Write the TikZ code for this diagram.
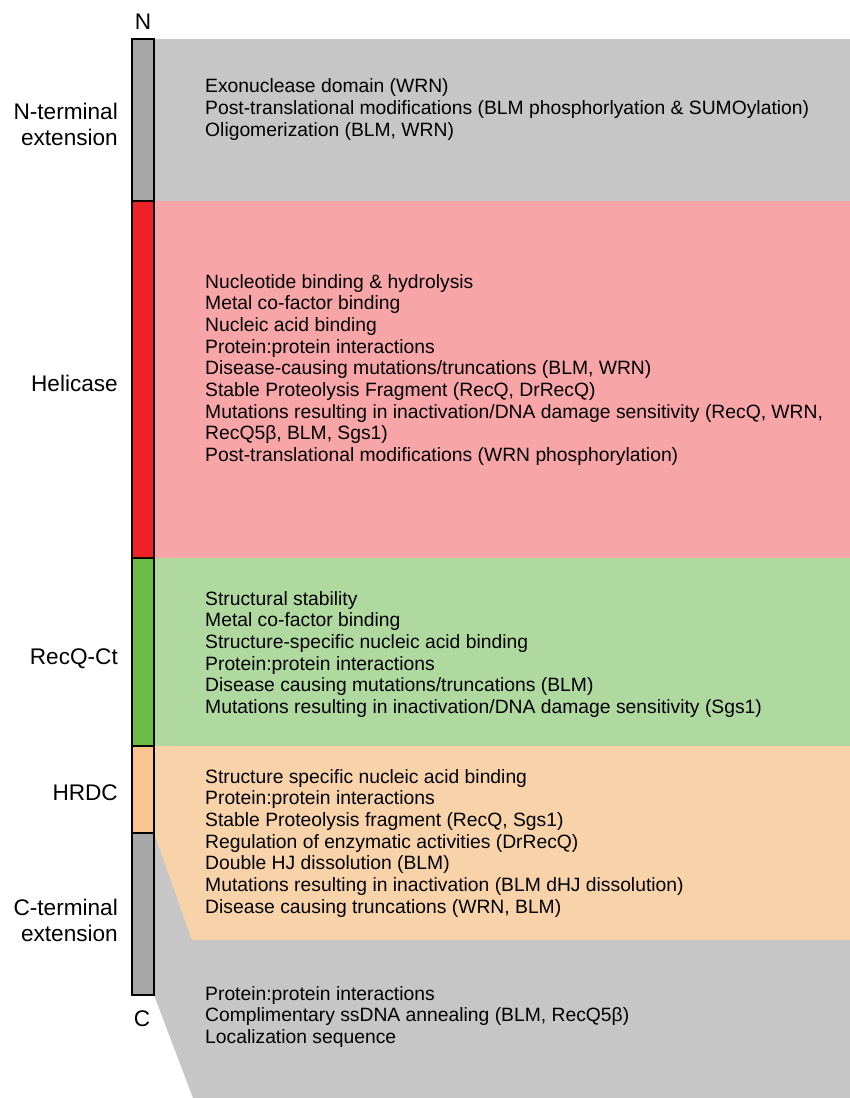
\documentclass[tikz,border=0pt]{standalone}
\usepackage{fontspec}
\setmainfont{Liberation Sans}

\definecolor{barGray}{HTML}{A7A7A7}
\definecolor{bandGray}{HTML}{C6C6C6}
\definecolor{barRed}{HTML}{EE2226}
\definecolor{bandRed}{HTML}{F7A5A7}
\definecolor{barGreen}{HTML}{6BBD46}
\definecolor{bandGreen}{HTML}{B0D9A0}
\definecolor{barOrange}{HTML}{F8C590}
\definecolor{bandOrange}{HTML}{F8D3A9}

\tikzset{
  domainbar/.style={draw=black, line width=1.3pt},
  feature/.style={anchor=base west, inner sep=0pt, font=\fontsize{19.3}{22}\selectfont},
  region/.style={anchor=base east, inner sep=0pt, font=\fontsize{22.6}{26}\selectfont},
  terminus/.style={anchor=base, inner sep=0pt, font=\fontsize{22.6}{26}\selectfont},
}

\begin{document}
\begin{tikzpicture}[x=1pt, y=-1pt]
  \useasboundingbox (0,0) rectangle (850,1098);
  % shaded bands behind the bar
  \fill[bandGray] (154,39) rectangle (850,201);
  \fill[bandRed] (154,201) rectangle (850,558);
  \fill[bandGreen] (154,558) rectangle (850,746);
  \fill[bandGray] (154,833) -- (850,833) -- (850,1098) -- (193,1098) -- (154,995) -- cycle;
  \fill[bandOrange] (154,746) -- (850,746) -- (850,940) -- (192,940) -- (154,833) -- cycle;

  % domain bar, N to C
  \draw[domainbar, fill=barGray] (132,39) rectangle (154,201);
  \draw[domainbar, fill=barRed] (132,201) rectangle (154,558);
  \draw[domainbar, fill=barGreen] (132,558) rectangle (154,746);
  \draw[domainbar, fill=barOrange] (132,746) rectangle (154,833);
  \draw[domainbar, fill=barGray] (132,833) rectangle (154,995);

  \node[terminus] (nend) at (143,29.5) {N};
  \node[terminus] (cend) at (142,1026) {C};

  % region names
  \node[region] (nterm1) at (118,119.5) {N-terminal};
  \node[region] (nterm2) at (118,145) {extension};
  \node[region] (heli) at (118,391.5) {Helicase};
  \node[region] (recqct) at (118,664) {RecQ-Ct};
  \node[region] (hrdc) at (118,800.5) {HRDC};
  \node[region] (cterm1) at (118,915) {C-terminal};
  \node[region] (cterm2) at (118,941.5) {extension};

  % features of each region
  \foreach \t [count=\i] in {Exonuclease domain (WRN),
      Post-translational modifications (BLM phosphorlyation \& SUMOylation),
      {Oligomerization (BLM, WRN)}}
    \node[feature] (fn-\i) at (205,{92.7+21.7*(\i-1)}) {\t};

  \foreach \t [count=\i] in {Nucleotide binding \& hydrolysis,
      Metal co-factor binding,
      Nucleic acid binding,
      Protein:protein interactions,
      {Disease-causing mutations/truncations (BLM, WRN)},
      {Stable Proteolysis Fragment (RecQ, DrRecQ)},
      {Mutations resulting in inactivation/DNA damage sensitivity (RecQ, WRN,},
      {RecQ5β, BLM, Sgs1)},
      Post-translational modifications (WRN phosphorylation)}
    \node[feature] (fh-\i) at (205,{288+21.7*(\i-1)}) {\t};

  \foreach \t [count=\i] in {Structural stability,
      Metal co-factor binding,
      Structure-specific nucleic acid binding,
      Protein:protein interactions,
      Disease causing mutations/truncations (BLM),
      Mutations resulting in inactivation/DNA damage sensitivity (Sgs1)}
    \node[feature] (fr-\i) at (205,{605+21.7*(\i-1)}) {\t};

  \foreach \t [count=\i] in {Structure specific nucleic acid binding,
      Protein:protein interactions,
      {Stable Proteolysis fragment (RecQ, Sgs1)},
      Regulation of enzymatic activities (DrRecQ),
      Double HJ dissolution (BLM),
      Mutations resulting in inactivation (BLM dHJ dissolution),
      {Disease causing truncations (WRN, BLM)}}
    \node[feature] (fd-\i) at (205,{783+21.7*(\i-1)}) {\t};

  \foreach \t [count=\i] in {Protein:protein interactions,
      {Complimentary ssDNA annealing (BLM, RecQ5β)},
      Localization sequence}
    \node[feature] (fc-\i) at (205,{1000+21.7*(\i-1)}) {\t};
\end{tikzpicture}
\end{document}
